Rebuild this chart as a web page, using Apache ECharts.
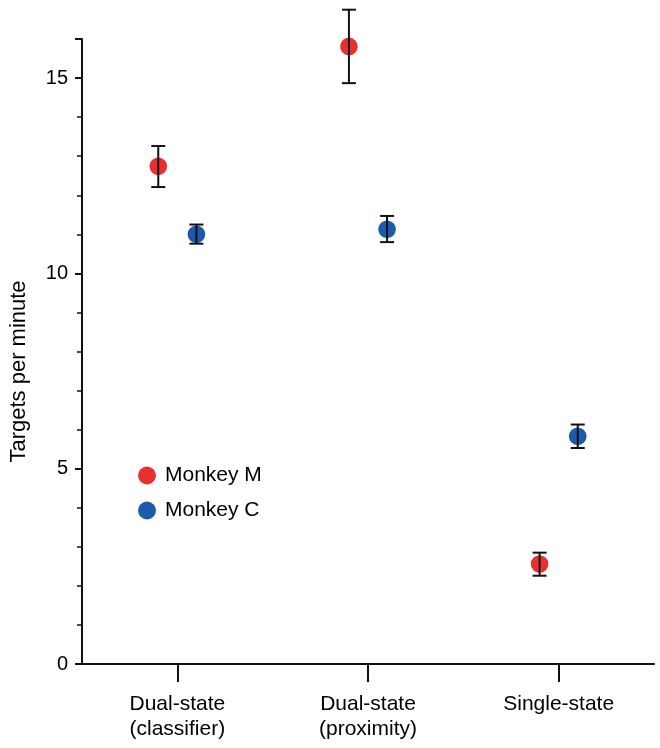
<!DOCTYPE html>
<html>
<head>
<meta charset="utf-8">
<script src="https://cdn.jsdelivr.net/npm/echarts@6/dist/echarts.min.js"></script>
<style>
  html, body { margin: 0; padding: 0; background: #fff; }
  #chart { width: 660px; height: 748px; }
</style>
</head>
<body>
<div id="chart"></div>
<script>
// ---- data ----
const categories = ['Dual-state\n(classifier)', 'Dual-state\n(proximity)', 'Single-state'];
const seriesNames = ['Monkey M', 'Monkey C'];
const monkeyM = [12.74, 15.81, 2.56];
const monkeyMLow = [12.21, 14.87, 2.26];
const monkeyMHigh = [13.26, 16.75, 2.85];
const monkeyC = [11.00, 11.13, 5.83];
const monkeyCLow = [10.76, 10.80, 5.53];
const monkeyCHigh = [11.25, 11.47, 6.13];
const yMin = 0, yMax = 16, yLabelStep = 5;

// ---- styles ----
const RED = '#E8302F';
const BLUE = '#1D5AAE';
const INK = '#111111';
const FONT = '"Liberation Sans", Arial, Helvetica, sans-serif';

function buildData(vals, lows, highs) {
  return vals.map((v, i) => [i, v, lows[i], highs[i]]);
}

function makeRenderer(dir, color) {
  return function (params, api) {
    const i = api.value(0);
    const c = api.coord([i, api.value(1)]);
    const lo = api.coord([i, api.value(2)]);
    const hi = api.coord([i, api.value(3)]);
    const band = api.size([1, 0])[0];
    const x = c[0] + dir * band * 0.1;
    const cap = 7;
    const lineStyle = { stroke: INK, lineWidth: 2 };
    return {
      type: 'group',
      children: [
        { type: 'circle', shape: { cx: x, cy: c[1], r: 8.8 }, style: { fill: color } },
        { type: 'line', shape: { x1: x, y1: lo[1], x2: x, y2: hi[1] }, style: lineStyle },
        { type: 'line', shape: { x1: x - cap, y1: lo[1], x2: x + cap, y2: lo[1] }, style: lineStyle },
        { type: 'line', shape: { x1: x - cap, y1: hi[1], x2: x + cap, y2: hi[1] }, style: lineStyle }
      ]
    };
  };
}

const chart = echarts.init(document.getElementById('chart'), null, { renderer: 'canvas' });
chart.setOption({
  animation: false,
  backgroundColor: '#ffffff',
  textStyle: { fontFamily: FONT, color: '#000' },
  grid: { left: 82, right: 6, top: 39, bottom: 84, containLabel: false },
  legend: {
    orient: 'vertical',
    left: 133,
    top: 460,
    itemWidth: 18,
    itemHeight: 18,
    itemGap: 14,
    data: [
      { name: seriesNames[0], icon: 'circle' },
      { name: seriesNames[1], icon: 'circle' }
    ],
    textStyle: { fontSize: 21, color: '#000', fontFamily: FONT, padding: [0, 0, 0, 4] }
  },
  xAxis: {
    type: 'category',
    data: categories,
    boundaryGap: true,
    axisLine: { show: true, lineStyle: { color: INK, width: 2 } },
    axisTick: { show: true, alignWithLabel: true, length: 18, lineStyle: { color: INK, width: 2 } },
    axisLabel: { fontSize: 21, lineHeight: 25, margin: 28, color: '#000', fontFamily: FONT, interval: 0 },
    splitLine: { show: false }
  },
  yAxis: [
    {
      type: 'value',
      min: yMin,
      max: yMax,
      interval: 1,
      name: 'Targets per minute',
      nameLocation: 'middle',
      nameGap: 52,
      nameRotate: 90,
      nameTextStyle: { fontSize: 22, color: '#000', fontFamily: FONT, padding: [0, 40, 0, 0] },
      axisLine: { show: true, lineStyle: { color: INK, width: 2 } },
      axisTick: { show: true, length: 5, lineStyle: { color: INK, width: 1.5 } },
      axisLabel: {
        fontSize: 20, margin: 14, color: '#000', fontFamily: FONT,
        formatter: v => (v % yLabelStep === 0 ? String(v) : '')
      },
      splitLine: { show: false }
    },
    {
      type: 'value',
      min: yMin,
      max: yMax,
      interval: yLabelStep,
      position: 'left',
      offset: 0,
      axisLine: { show: false },
      axisTick: { show: true, length: 7, lineStyle: { color: INK, width: 2 } },
      axisLabel: { show: false },
      splitLine: { show: false }
    }
  ],
  series: [
    {
      name: seriesNames[0],
      type: 'custom',
      xAxisIndex: 0,
      yAxisIndex: 0,
      clip: false,
      itemStyle: { color: RED },
      encode: { x: 0, y: [1, 2, 3] },
      renderItem: makeRenderer(-1, RED),
      data: buildData(monkeyM, monkeyMLow, monkeyMHigh),
      z: 3
    },
    {
      name: seriesNames[1],
      type: 'custom',
      xAxisIndex: 0,
      yAxisIndex: 0,
      clip: false,
      itemStyle: { color: BLUE },
      encode: { x: 0, y: [1, 2, 3] },
      renderItem: makeRenderer(1, BLUE),
      data: buildData(monkeyC, monkeyCLow, monkeyCHigh),
      z: 3
    }
  ]
});
</script>
</body>
</html>
